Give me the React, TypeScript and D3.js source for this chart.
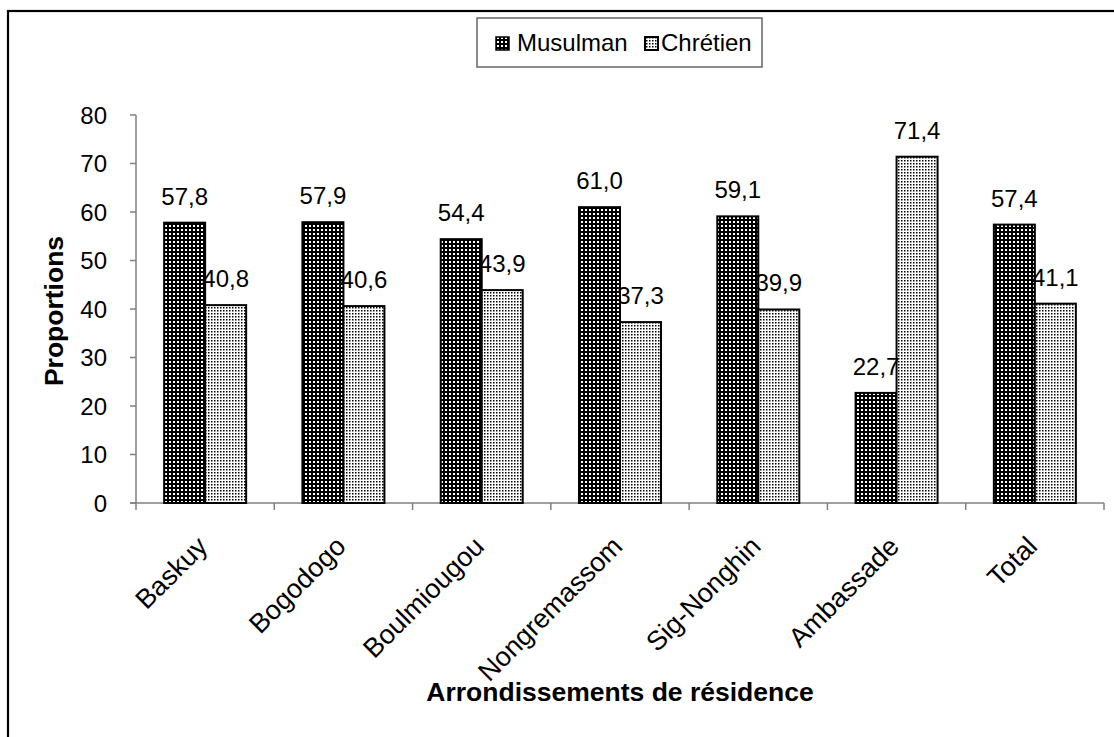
import React from "react";
import * as d3 from "d3";

const categories = ["Baskuy", "Bogodogo", "Boulmiougou", "Nongremassom", "Sig-Nonghin", "Ambassade", "Total"];
const musulman = [57.8, 57.9, 54.4, 61.0, 59.1, 22.7, 57.4];
const chretien = [40.8, 40.6, 43.9, 37.3, 39.9, 71.4, 41.1];
const seriesNames = ["Musulman", "Chrétien"];
const yTicks = [0, 10, 20, 30, 40, 50, 60, 70, 80];

const W = 1114;
const H = 737;
const left = 136;
const right = 1104;
const top = 115;
const bottom = 503;
const FONT = "'Liberation Sans', Arial, sans-serif";

const fmt = (v: number) => v.toFixed(1).replace(".", ",");

export default function App() {
  const x = d3.scaleBand<string>().domain(categories).range([left, right]).paddingInner(0.407).paddingOuter(0.2035);
  const xs = d3.scaleBand<string>().domain(seriesNames).range([0, x.bandwidth()]);
  const y = d3.scaleLinear().domain([0, 80]).range([bottom, top]);
  const step = x.step();
  const patterns = ["patDark", "patLight"];
  const data = [musulman, chretien];

  return (
    <svg width={W} height={H} style={{ position: "absolute", left: 0, top: 0, background: "#fff" }} fontFamily={FONT}>
      <defs>
        <pattern id="patDark" width={4} height={4} patternUnits="userSpaceOnUse">
          <rect width={4} height={4} fill="#000" />
          <rect x={1} y={1} width={2} height={2} fill="#fff" />
        </pattern>
        <pattern id="patLight" width={3} height={3} patternUnits="userSpaceOnUse">
          <rect width={3} height={3} fill="#fff" />
          <rect x={1} y={1} width={1.5} height={1.5} fill="#000" />
        </pattern>
      </defs>
      <rect x={0} y={0} width={W} height={H} fill="#fff" />
      <rect x={8} y={11} width={W + 20} height={H + 20} fill="none" stroke="#000" strokeWidth={2.2} />

      {/* legend */}
      <rect x={477} y={18} width={285} height={49} fill="#fff" stroke="#666" strokeWidth={1.5} />
      <rect x={496} y={37} width={13} height={13} fill="url(#patDark)" stroke="#000" strokeWidth={1.5} />
      <text x={517} y={51} fontSize={24} fill="#000">{seriesNames[0]}</text>
      <rect x={645} y={37} width={13} height={13} fill="url(#patLight)" stroke="#000" strokeWidth={2} />
      <text x={661} y={51} fontSize={24} fill="#000">{seriesNames[1]}</text>

      {/* y axis */}
      <line x1={left} x2={left} y1={top} y2={bottom + 7} stroke="#808080" strokeWidth={1.5} />
      {yTicks.map((t) => (
        <g key={t}>
          <line x1={left - 6} x2={left} y1={y(t)} y2={y(t)} stroke="#808080" strokeWidth={1.5} />
          <text x={107} y={y(t) + 8.5} fontSize={24} textAnchor="end" fill="#000">{t}</text>
        </g>
      ))}
      {/* x axis */}
      <line x1={left - 6} x2={right} y1={bottom} y2={bottom} stroke="#808080" strokeWidth={1.5} />
      {categories.map((c, i) => (
        <line key={c} x1={left + (i + 1) * step} x2={left + (i + 1) * step} y1={bottom} y2={bottom + 7} stroke="#808080" strokeWidth={1.5} />
      ))}

      {/* bars */}
      {categories.map((c, i) => (
        <g key={c}>
          {data.map((arr, s) => {
            const bx = (x(c) as number) + (xs(seriesNames[s]) as number);
            const bw = xs.bandwidth();
            return (
              <rect key={s} x={bx} y={y(arr[i])} width={bw} height={bottom - y(arr[i])} fill={`url(#${patterns[s]})`} stroke="#000" strokeWidth={2} />
            );
          })}
          {data.map((arr, s) => {
            const bx = (x(c) as number) + (xs(seriesNames[s]) as number);
            const bw = xs.bandwidth();
            return (
              <text key={"l" + s} x={bx + bw / 2} y={y(arr[i]) - 18} fontSize={24} textAnchor="middle" fill="#000">{fmt(arr[i])}</text>
            );
          })}
          <text
            transform={`translate(${(x(c) as number) + x.bandwidth() / 2 + 4},548) rotate(-45)`}
            fontSize={27}
            textAnchor="end"
            fill="#000"
          >
            {c}
          </text>
        </g>
      ))}

      <text transform={`translate(63,${(top + bottom) / 2 + 2}) rotate(-90)`} fontSize={26.5} fontWeight="bold" textAnchor="middle" fill="#000">Proportions</text>
      <text x={(left + right) / 2} y={701} fontSize={26.5} fontWeight="bold" textAnchor="middle" fill="#000">Arrondissements de résidence</text>
    </svg>
  );
}
